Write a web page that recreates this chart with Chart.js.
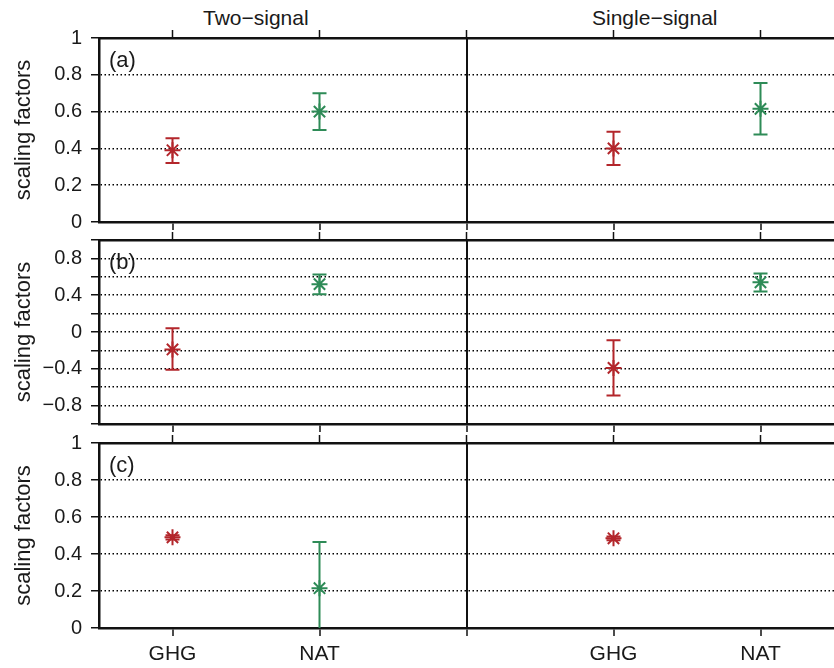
<!DOCTYPE html>
<html>
<head>
<meta charset="utf-8">
<script src="https://cdn.jsdelivr.net/npm/chart.js@4.4.0/dist/chart.umd.min.js"></script>
<style>
  body { margin: 0; width: 834px; height: 668px; overflow: hidden; background: #fff; position: relative;
         font-family: "Liberation Sans", Arial, sans-serif; color: #1a1a1a; }
  .panel { position: absolute; left: 0; width: 834px; }
  .colTitle { position: absolute; font-size: 21px; line-height: 21px; white-space: nowrap; }
</style>
</head>
<body>
<div class="colTitle" style="left:203px; top:7px">Two−signal</div>
<div class="colTitle" style="left:592px; top:7px">Single−signal</div>
<div class="panel" style="top:28px; height:204px"><canvas id="chartA" width="834" height="204"></canvas></div>
<div class="panel" style="top:230px; height:204px"><canvas id="chartB" width="834" height="204"></canvas></div>
<div class="panel" style="top:433px; height:235px"><canvas id="chartC" width="834" height="235"></canvas></div>
<script>
// categories along x (slot 2 is the divider between two-signal and single-signal)
const xLabels = ['GHG', 'NAT', '', 'GHG', 'NAT'];
const xPositions = [0, 1, 2, 3, 4];
const pointColors = ['#b3262b', '#2e8b57', null, '#b3262b', '#2e8b57'];

// panel (a)
const aBest = [0.39, 0.60, null, 0.40, 0.615];
const aLow  = [0.32, 0.50, null, 0.31, 0.475];
const aHigh = [0.455, 0.70, null, 0.49, 0.755];

// panel (b)
const bBest = [-0.19, 0.52, null, -0.39, 0.54];
const bLow  = [-0.41, 0.41, null, -0.69, 0.44];
const bHigh = [0.04, 0.625, null, -0.09, 0.635];

// panel (c)
const cBest = [0.49, 0.215, null, 0.485, null];
const cLow  = [0.478, -0.03, null, 0.475, null];
const cHigh = [0.502, 0.465, null, 0.495, null];

// y ticks
const yTicksAC  = [0, 0.2, 0.4, 0.6, 0.8, 1];
const yLabelsAC = ['0', '0.2', '0.4', '0.6', '0.8', '1'];
const yTicksB   = [-1, -0.8, -0.6, -0.4, -0.2, 0, 0.2, 0.4, 0.6, 0.8, 1];
const yLabelsB  = ['', '−0.8', '', '−0.4', '', '0', '', '0.4', '', '0.8', ''];

Chart.defaults.font.family = '"Liberation Sans", Arial, sans-serif';
Chart.defaults.color = '#1a1a1a';

const ink = '#111';

// error bars drawn under the asterisks
const errorBars = {
    id: 'errorBars',
    beforeDatasetsDraw(chart) {
        const { ctx, chartArea, scales: { x, y } } = chart;
        ctx.save();
        ctx.beginPath();
        ctx.rect(chartArea.left, chartArea.top, chartArea.width, chartArea.height);
        ctx.clip();
        chart.data.datasets[0].data.forEach(p => {
            const px = x.getPixelForValue(p.x);
            const yLo = y.getPixelForValue(p.lo);
            const yHi = y.getPixelForValue(p.hi);
            ctx.strokeStyle = p.color;
            ctx.lineWidth = 2;
            ctx.beginPath();
            ctx.moveTo(px, yLo); ctx.lineTo(px, yHi);
            ctx.moveTo(px - 7, yLo); ctx.lineTo(px + 7, yLo);
            ctx.moveTo(px - 7, yHi); ctx.lineTo(px + 7, yHi);
            ctx.stroke();
        });
        ctx.restore();
    }
};

// "(a)", "(b)", "(c)" in the top-left corner
const panelLabel = {
    id: 'panelLabel',
    afterDraw(chart, args, opts) {
        const { ctx, chartArea } = chart;
        ctx.save();
        ctx.font = '22px "Liberation Sans", Arial, sans-serif';
        ctx.fillStyle = '#1a1a1a';
        ctx.textBaseline = 'middle';
        ctx.fillText(opts.text, chartArea.left + 10, chartArea.top + 23);
        ctx.restore();
    }
};

function makePanel(id, best, low, high, yTicks, yLabels, label, showX) {
    const pts = xPositions
        .map((x, i) => ({ x: x, y: best[i], lo: low[i], hi: high[i], color: pointColors[i] }))
        .filter(p => p.y !== null);

    const xTicks = s => { s.ticks = xPositions.map(v => ({ value: v })); };

    new Chart(document.getElementById(id), {
        type: 'scatter',
        data: {
            datasets: [{
                data: pts,
                pointStyle: 'star',
                pointRadius: 8,
                pointBorderWidth: 2,
                pointBorderColor: pts.map(p => p.color),
                pointBackgroundColor: pts.map(p => p.color)
            }]
        },
        options: {
            responsive: false,
            animation: false,
            layout: { padding: 0, autoPadding: false },
            plugins: { legend: { display: false }, tooltip: { enabled: false }, panelLabel: { text: label } },
            scales: {
                x: {
                    type: 'linear', position: 'bottom', min: -0.5, max: 4.5,
                    afterBuildTicks: xTicks,
                    afterFit: s => { s.height = showX ? 40 : 10; s.paddingLeft = 0; s.paddingRight = 0; },
                    ticks: {
                        autoSkip: false, maxRotation: 0, padding: 6,
                        font: { size: 21 },
                        callback: (v, i) => showX ? xLabels[i] : ''
                    },
                    grid: {
                        color: c => (c.tick && c.tick.value === 2) ? ink : 'transparent',
                        lineWidth: 2, tickColor: ink, tickWidth: 1.5, tickLength: 8
                    },
                    border: { color: ink, width: 2.5 }
                },
                xTop: {
                    type: 'linear', position: 'top', min: -0.5, max: 4.5,
                    afterBuildTicks: xTicks,
                    afterFit: s => { s.height = 10; s.paddingLeft = 0; s.paddingRight = 0; },
                    ticks: { autoSkip: false, maxRotation: 0, callback: () => '' },
                    grid: { drawOnChartArea: false, tickColor: ink, tickWidth: 1.5, tickLength: 8 },
                    border: { color: ink, width: 2.5 }
                },
                y: {
                    min: yTicks[0], max: yTicks[yTicks.length - 1],
                    afterBuildTicks: s => { s.ticks = yTicks.map(v => ({ value: v })); },
                    afterFit: s => { s.width = 99; s.paddingTop = 0; s.paddingBottom = 0; },
                    ticks: {
                        autoSkip: false, padding: 9,
                        font: { size: 20 },
                        callback: (v, i) => yLabels[i]
                    },
                    grid: {
                        color: c => (c.index === 0 || c.index === yTicks.length - 1) ? 'transparent' : '#000',
                        lineWidth: 1.5, tickColor: ink, tickWidth: 1.5, tickLength: 8
                    },
                    border: { color: ink, width: 2.5, dash: [1.5, 2.5] },
                    title: {
                        display: true, text: 'scaling factors',
                        font: { size: 22 }, padding: { top: 11, bottom: 0 }
                    }
                }
            }
        },
        plugins: [errorBars, panelLabel]
    });
}

makePanel('chartA', aBest, aLow, aHigh, yTicksAC, yLabelsAC, '(a)', false);
makePanel('chartB', bBest, bLow, bHigh, yTicksB, yLabelsB, '(b)', false);
makePanel('chartC', cBest, cLow, cHigh, yTicksAC, yLabelsAC, '(c)', true);
</script>
</body>
</html>
